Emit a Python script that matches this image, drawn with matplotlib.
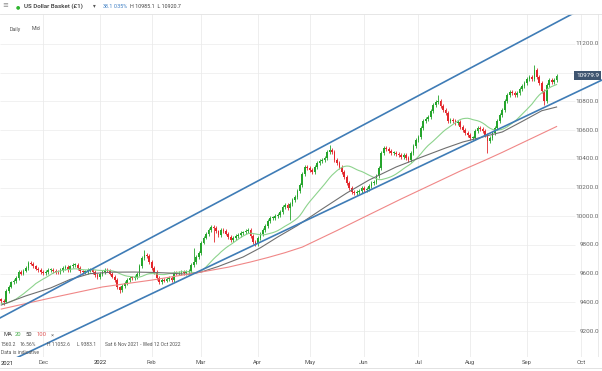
import numpy as np
import pandas as pd
import matplotlib
matplotlib.use("Agg")
import matplotlib.pyplot as plt
import matplotlib.transforms as mtransforms

plt.rcParams['font.family'] = ['Roboto', 'DejaVu Sans']

# daily closes, first candle Mon 8 Nov 2021
closes = [
    9410, 9405, 9480, 9510, 9540, 9550, 9570, 9610, 9600, 9620,
    9640, 9675, 9670, 9650, 9635, 9625, 9610, 9605, 9612, 9625,
    9625, 9618, 9610, 9608, 9625, 9640, 9645, 9625, 9650, 9660,
    9662, 9640, 9615, 9610, 9612, 9625, 9628, 9610, 9590, 9575,
    9598, 9610, 9625, 9620, 9600, 9578, 9555, 9505, 9485, 9515,
    9535, 9555, 9570, 9568, 9575, 9598, 9652, 9710, 9730, 9722,
    9680, 9640, 9610, 9570, 9540, 9555, 9552, 9562, 9570, 9555,
    9605, 9602, 9605, 9612, 9605, 9610, 9618, 9660, 9680, 9715,
    9745, 9815, 9850, 9875, 9905, 9925, 9918, 9895, 9870, 9905,
    9898, 9878, 9855, 9835, 9848, 9862, 9870, 9883, 9888, 9896,
    9904, 9862, 9820, 9805, 9848, 9876, 9904, 9932, 9966, 9987,
    9988, 10000, 10008, 10030, 10065, 10078, 10057, 10085, 10113, 10134,
    10176, 10218, 10295, 10343, 10336, 10322, 10308, 10343, 10371, 10385,
    10392, 10406, 10447, 10461, 10447, 10392, 10371, 10343, 10308, 10273,
    10231, 10196, 10169, 10162, 10169, 10176, 10196, 10183, 10190, 10210,
    10231, 10238, 10280, 10336, 10440, 10475, 10468, 10454, 10440, 10440,
    10433, 10426, 10413, 10426, 10406, 10392, 10440, 10490, 10531, 10552,
    10615, 10663, 10677, 10691, 10733, 10775, 10796, 10803, 10768, 10740,
    10719, 10663, 10670, 10663, 10649, 10656, 10622, 10601, 10580, 10566,
    10545, 10545, 10594, 10615, 10608, 10594, 10566, 10524, 10545, 10580,
    10615, 10663, 10705, 10740, 10803, 10845, 10866, 10859, 10845, 10859,
    10886, 10907, 10928, 10956, 10970, 10956, 11019, 10970, 10928, 10872,
    10803, 10914, 10949, 10935, 10949, 10980,
]
# closes before the visible window, only used for the 20 day average
pre_closes = [9430, 9450, 9400, 9395, 9390, 9395, 9365, 9360, 9375, 9360,
              9380, 9390, 9375, 9330, 9410, 9400, 9390, 9430, 9420]

# long wicks that stand out
spike_highs = {58: 9765, 78: 9778, 133: 10496, 177: 10845, 216: 11053}
spike_lows = {1: 9383, 48: 9465, 86: 9820, 117: 9975, 197: 10440, 220: 10775}

# 50 and 100 day averages (day index, value)
ma50_idx = [0, 10, 20, 28, 36, 45, 54, 62, 68, 76, 81, 88, 98, 105, 112, 120,
            130, 140, 149, 160, 170, 180, 187, 195, 203, 211, 219, 225]
ma50_val = [9381, 9445, 9500, 9560, 9600, 9610, 9611, 9608, 9604, 9595, 9611, 9650,
            9716, 9780, 9855, 9935, 10050, 10162, 10252, 10343, 10410, 10475,
            10517, 10552, 10587, 10660, 10735, 10761]
ma100_idx = [0, 20, 41, 61, 81, 92, 101, 108, 115, 122, 136, 146, 162, 186,
             196, 203, 214, 225]
ma100_val = [9353, 9430, 9507, 9555, 9611, 9645, 9681, 9712, 9746, 9785, 9900,
             9985, 10120, 10315, 10390, 10445, 10535, 10625]

# channel lines (day index, price)
upper_channel = [(-5, 9250), (245, 11534)]
lower_channel = [(-5, 8922), (245, 10962)]

month_labels = ['Dec', '2022', 'Feb', 'Mar', 'Apr', 'May', 'Jun', 'Jul', 'Aug', 'Sep', 'Oct']
price_ticks = [9200, 9400, 9600, 9800, 10000, 10200, 10400, 10600, 10800, 11000, 11200]
last_price = 10979.9

W, H = 602, 371
fig = plt.figure(figsize=(W / 100, H / 100), dpi=100)
ax = fig.add_axes([0, (H - 357) / H, 1, (357 - 14) / H])
ax.set_xlim(-0.5, 243.4)
ax.set_ylim(9019, 11409)
for s in ax.spines.values():
    s.set_visible(False)
ax.set_yticks([])

dates = pd.bdate_range('2021-11-08', periods=260)
month_pos = []
for y, m in [(2021, 12)] + [(2022, k) for k in range(1, 11)]:
    month_pos.append(int(np.argmax((dates.year == y) & (dates.month == m))))

# grid
ax.hlines(price_ticks, 0, 575 / W, transform=ax.get_yaxis_transform(),
          color='#efefef', lw=0.6, zorder=0)
ax.vlines(month_pos, 0, 1, transform=ax.get_xaxis_transform(),
          color='#ebebeb', lw=0.6, zorder=0)

# candles
c = np.array(closes, dtype=float)
o = np.r_[pre_closes[-1], c[:-1]]
idx = np.arange(len(c))
up = c >= o
hi = np.maximum(o, c) + 12
lo = np.minimum(o, c) - 12
for k, v in spike_highs.items():
    hi[k] = v
for k, v in spike_lows.items():
    lo[k] = v
green, red = '#25a52c', '#e3262b'
cols = np.where(up, green, red)
ax.vlines(idx, lo, hi, colors=cols, lw=0.6, zorder=2)
body_lo = np.minimum(o, c)
body_h = np.maximum(np.abs(c - o), 5)
ax.bar(idx, body_h, bottom=body_lo, width=0.7, color=cols, lw=0, zorder=3)

# moving averages
ma20 = pd.Series(pre_closes + closes).rolling(20).mean().iloc[len(pre_closes):]
ax.plot(idx, ma20.values, color='#8dd38d', lw=0.8, zorder=4)
ax.plot(ma50_idx, ma50_val, color='#6f6f6f', lw=0.8, zorder=4)
ax.plot(ma100_idx, ma100_val, color='#f08787', lw=0.8, zorder=4)

# channel
for line in (upper_channel, lower_channel):
    xs, ys = zip(*line)
    ax.plot(xs, ys, color='#3f7cb6', lw=1.2, zorder=5, solid_capstyle='butt')

# x labels
ax.set_xticks(month_pos)
ax.set_xticklabels(month_labels)
ax.tick_params(axis='x', length=0, pad=2.2, labelsize=4.2, colors='#555555')
for t in ax.get_xticklabels():
    if t.get_text().isdigit():
        t.set_color('#222222')
ax.text(1 / W, -0.0175, '2021', transform=ax.transAxes, ha='left', va='center',
        fontsize=4.2, color='#222222')

# price axis labels (the one under the last price box is hidden)
tr = mtransforms.blended_transform_factory(fig.transFigure, ax.transData)
for p in price_ticks:
    if abs(p - last_price) < 60:
        continue
    ax.text(599 / W, p, f'{p:.1f}', transform=tr, ha='right', va='center',
            fontsize=4.6, color='#666666', zorder=6)
ax.text(599 / W, last_price, f'{last_price:.1f}', transform=tr, ha='right', va='center',
        fontsize=4.6, color='white', zorder=7,
        bbox=dict(boxstyle='square,pad=0.25', fc='#3f5570', ec='none'))
ax.axvline(243.4 - 4 / 2.468, color='#e6e6e6', lw=0.6, zorder=1)


def ftxt(x, y, s, **kw):
    fig.text(x / W, 1 - y / H, s, va='center', **kw)


# header
fig.add_artist(plt.Line2D([0, 1], [1 - 14 / H, 1 - 14 / H], transform=fig.transFigure,
                          color='#e2e2e2', lw=0.6))
ftxt(2, 6, '≡', fontsize=5, color='#888888')
ftxt(15.5, 6.3, '●', fontsize=3.6, color='#2fb52f')
ftxt(24, 6, 'US Dollar Basket (£1)', fontsize=4.4, color='#333333', fontweight='medium')
ftxt(93, 6, '▾', fontsize=4, color='#555555', family=['DejaVu Sans'])
ftxt(103, 6, '38.1', fontsize=3.9, color='#3b7dc4')
ftxt(114, 6, '0.35%', fontsize=3.9, color='#3b7dc4')
ftxt(130, 6, 'H 10985.1  L 10920.7', fontsize=3.9, color='#444444')
ftxt(10, 29, 'Daily', fontsize=3.8, color='#555555')
ftxt(32, 29, 'Mid', fontsize=3.8, color='#555555')

# MA legend and range info
ftxt(3, 335, 'MA', fontsize=4.2, color='#444444')
ftxt(15, 335, '20', fontsize=4.2, color='#4caf50')
ftxt(25, 335, '50', fontsize=4.2, color='#333333')
ftxt(37, 335, '100', fontsize=4.2, color='#e05555')
ftxt(51, 335, '×', fontsize=4.2, color='#777777')
ftxt(1, 345, '1560.2', fontsize=3.6, color='#555555')
ftxt(20, 345, '16.56%', fontsize=3.6, color='#555555')
ftxt(47, 345, 'H 11052.6', fontsize=3.6, color='#555555')
ftxt(77, 345, 'L 9383.1', fontsize=3.6, color='#555555')
ftxt(105, 345, 'Sat 6 Nov 2021 - Wed 12 Oct 2022', fontsize=3.6, color='#555555')
ftxt(1, 353, 'Data is indicative', fontsize=3.6, color='#555555')

# bottom strip line
fig.add_artist(plt.Line2D([0, 1], [1 - 368 / H, 1 - 368 / H], transform=fig.transFigure,
                          color='#dddddd', lw=0.6))

fig.savefig('out.png', dpi=100)
